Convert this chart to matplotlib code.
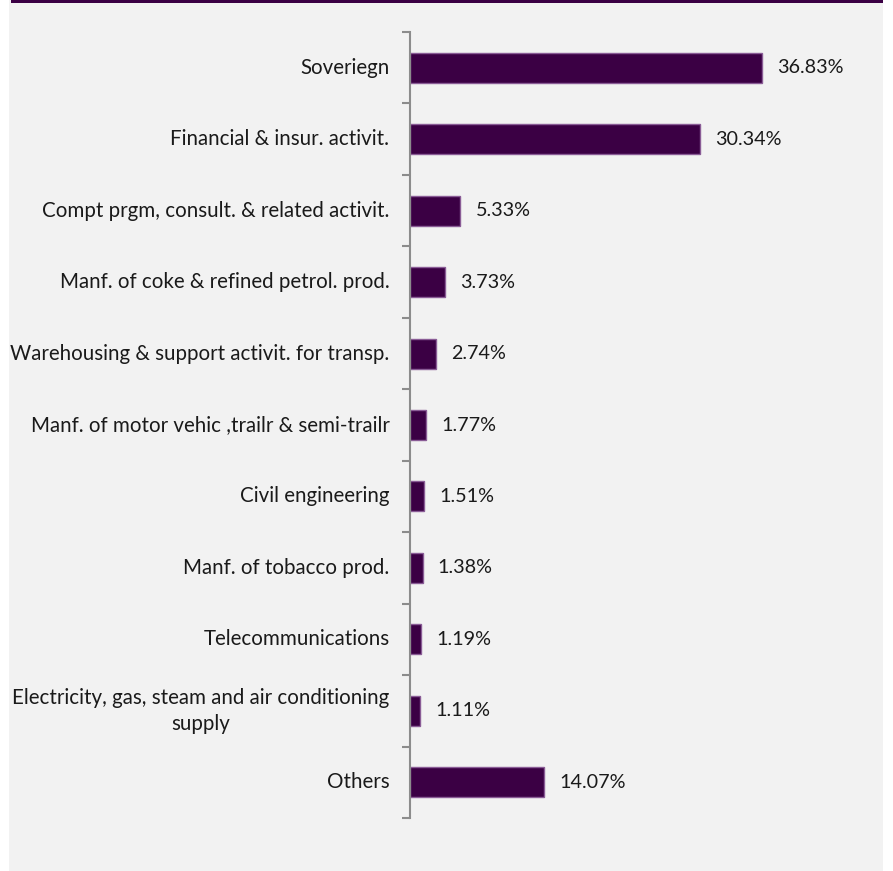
import matplotlib.pyplot as plt
from matplotlib.patches import Rectangle
from matplotlib.transforms import offset_copy

plt.rcParams['font.family'] = ['Lato', 'DejaVu Sans']

# sector breakdown, share of total (%)
sectors = [
    'Soveriegn',
    'Financial & insur. activit.',
    'Compt prgm, consult. & related activit.',
    'Manf. of coke & refined petrol. prod.',
    'Warehousing & support activit. for transp.',
    'Manf. of motor vehic ,trailr & semi-trailr',
    'Civil engineering',
    'Manf. of tobacco prod.',
    'Telecommunications',
    'Electricity, gas, steam and air conditioning\nsupply',
    'Others',
]
shares = [36.83, 30.34, 5.33, 3.73, 2.74, 1.77, 1.51, 1.38, 1.19, 1.11, 14.07]

BAR_COLOR = '#3b0044'
EDGE_COLOR = '#8a5c96'
PANEL = '#f2f2f2'
TEXT = '#1a1a1a'
FS = 14.8
W, H = 893, 871

fig = plt.figure(figsize=(W / 100, H / 100), dpi=100)
fig.patch.set_facecolor('white')

# grey panel and the thin purple band along its top
fig.patches.append(Rectangle((9 / W, 0), (883 - 9) / W, 1, transform=fig.transFigure,
                             facecolor=PANEL, edgecolor='none', zorder=-2))
fig.patches.append(Rectangle((11 / W, 1 - 3.5 / H), (883 - 11) / W, 3.5 / H,
                             transform=fig.transFigure, facecolor=BAR_COLOR,
                             edgecolor='none', zorder=-1))

ax = fig.add_axes([409.5 / W, 1 - 818 / H, (883 - 409.5) / W, (818 - 32) / H])
ax.set_facecolor('none')

pos = list(range(len(sectors)))
ax.barh(pos, shares, height=0.42, color=BAR_COLOR, edgecolor=EDGE_COLOR, linewidth=1)

ax.set_ylim(len(sectors) - 0.5, -0.5)
ax.set_xlim(0, 49.5)

# tick marks sit on the category boundaries
ax.set_yticks([p - 0.5 for p in pos] + [len(sectors) - 0.5])
ax.set_yticklabels([])
ax.tick_params(axis='y', which='major', length=6, width=1.5, color='#8c8c8c', direction='out')

ax.xaxis.set_visible(False)
for side in ('top', 'right', 'bottom'):
    ax.spines[side].set_visible(False)
ax.spines['left'].set_color('#8c8c8c')
ax.spines['left'].set_linewidth(1.5)

# category names, right-aligned against the axis
name_tr = offset_copy(ax.get_yaxis_transform(), fig=fig, x=-20, y=0, units='dots')
for p, name in zip(pos, sectors):
    ax.text(0, p, name, transform=name_tr, ha='right', va='center',
            multialignment='center', linespacing=1.36, fontsize=FS, color=TEXT)

val_tr = offset_copy(ax.transData, fig=fig, x=15, y=0, units='dots')
for p, v in zip(pos, shares):
    ax.text(v, p, f'{v:.2f}%', transform=val_tr, ha='left', va='center',
            fontsize=14.2, color=TEXT)

fig.savefig('out.png', dpi=100, facecolor=fig.get_facecolor())
